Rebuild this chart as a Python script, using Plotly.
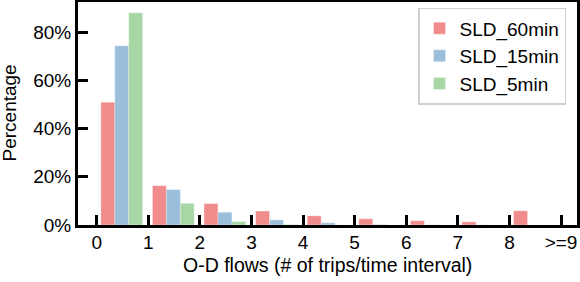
import plotly.graph_objects as go

tick_labels = ["0", "1", "2", "3", "4", "5", "6", "7", "8", ">=9"]
bins = list(range(9))
sld_60 = [51.0, 16.3, 8.9, 5.8, 3.8, 2.6, 1.8, 1.3, 5.9]
sld_15 = [74.4, 14.7, 5.3, 2.1, 0.9, 0.2, 0.1, 0.05, 0.0]
sld_5 = [88.1, 9.0, 1.4, 0.2, 0.05, 0.0, 0.0, 0.0, 0.0]

series = [
    ("SLD_60min", sld_60, "rgb(241,140,141)"),
    ("SLD_15min", sld_15, "rgb(155,190,219)"),
    ("SLD_5min", sld_5, "rgb(166,215,164)"),
]

FONT = "Liberation Sans, Arial, Helvetica, sans-serif"
fig = go.Figure()
xs = [b + 0.486 for b in bins]
for name, vals, col in series:
    fig.add_trace(go.Bar(
        x=xs, y=vals, name=name,
        marker=dict(color=col, line=dict(color="rgba(255,255,255,0.6)", width=0.5)),
    ))

L, R, T, B = 78, 3, 2, 57
fig.update_layout(
    width=580, height=282,
    margin=dict(l=L, r=R, t=T, b=B, autoexpand=False),
    paper_bgcolor="white", plot_bgcolor="white",
    barmode="group", bargap=0.19, bargroupgap=0,
    font=dict(family=FONT, size=19, color="black"),
    showlegend=True,
    legend=dict(
        x=0.978, y=0.974, xanchor="right", yanchor="top",
        bgcolor="white", bordercolor="#d0d0d0", borderwidth=1.5,
        font=dict(size=19),
    ),
    annotations=[
        dict(text="O-D flows (# of trips/time interval)", xref="paper", yref="paper",
             x=0.5, y=-(265 - (282 - B)) / (282 - T - B), xanchor="center", yanchor="middle",
             showarrow=False, font=dict(size=19.5)),
        dict(text="Percentage", xref="paper", yref="paper",
             x=-(L - 9) / (580 - L - R), y=0.5, xanchor="center", yanchor="middle",
             textangle=-90, showarrow=False, font=dict(size=19)),
    ],
)
fig.update_xaxes(
    range=[-0.362, 9.31], automargin=False,
    tickmode="array", tickvals=list(range(len(tick_labels))), ticktext=tick_labels,
    ticks="inside", ticklen=10, tickwidth=2.5, tickcolor="black",
    showline=True, linewidth=3, linecolor="black", mirror=True,
    showgrid=False, zeroline=False, ticklabelstandoff=-2,
)
fig.update_yaxes(
    range=[0, 92.6], automargin=False,
    tickmode="array", tickvals=[0, 20, 40, 60, 80], ticktext=["0%", "20%", "40%", "60%", "80%"],
    ticks="inside", ticklen=10, tickwidth=2.5, tickcolor="black",
    showline=True, linewidth=3, linecolor="black", mirror=True,
    showgrid=False, zeroline=False,
)
fig.write_html("out.html", config={"displayModeBar": False},
               post_script="document.body.style.margin='0';")
